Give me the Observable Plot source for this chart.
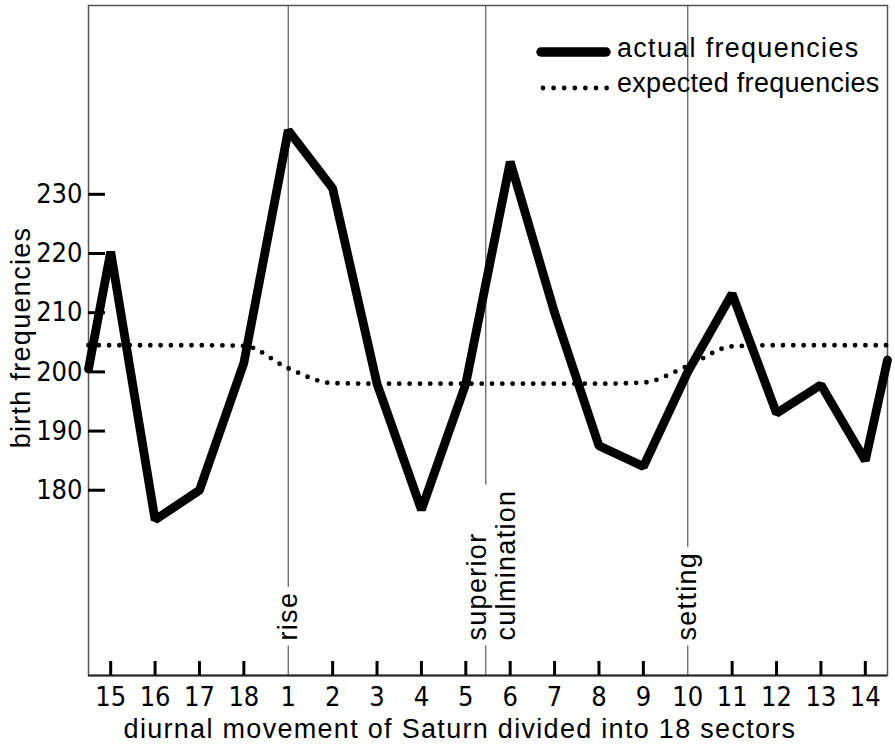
<!DOCTYPE html>
<html>
<head>
<meta charset="utf-8">
<script src="https://cdn.jsdelivr.net/npm/d3@7"></script>
<script src="https://cdn.jsdelivr.net/npm/@observablehq/plot@0.6"></script>
<style>
  html, body { margin: 0; padding: 0; background: #fff; }
  #chart svg { display: block; }
</style>
</head>
<body>
<div id="chart"></div>
<script>
// Sectors along the x axis; the cycle is cut at 15 so that rise (sector 1) sits inside the frame.
const sectorLabels = ["15", "16", "17", "18", "1", "2", "3", "4", "5", "6", "7", "8", "9", "10", "11", "12", "13", "14"];
// Observed birth frequencies per sector (same order as sectorLabels)
const actualFrequencies = [220.3, 175, 180, 201.5, 240.8, 231, 198, 176.7, 198, 235.5, 210, 187.5, 184, 200, 213.2, 193, 197.8, 185];
// Values where the curve meets the left and right edges of the frame
const actualEdges = [200.5, 202];
// Expected (chance) frequencies per sector
const expectedFrequencies = [204.5, 204.5, 204.5, 204.4, 200.6, 198.1, 198, 198, 198, 198, 198, 198, 198.2, 201, 204.3, 204.5, 204.5, 204.5];
const expectedEdges = [204.5, 204.5];
const yTicks = [180, 190, 200, 210, 220, 230];
const yDomain = [148.7, 261.9];
// Horizon / meridian markers, in sector units (0 = sector 15)
const markerNames = ["rise", "setting"];
const markerPositions = [4, 13];
const culminationName = "superior\nculmination";
const culminationPosition = 8.45;
const legendNames = ["actual frequencies", "expected frequencies"];
const xTitle = "diurnal movement of Saturn divided into 18 sectors";
const yTitle = "birth frequencies";

const n = sectorLabels.length;
const actual = [
  {i: -0.5, v: actualEdges[0]},
  ...actualFrequencies.map((v, i) => ({i, v})),
  {i: n - 0.5, v: actualEdges[1]}
];
const expected = [
  {i: -0.5, v: expectedEdges[0]},
  ...expectedFrequencies.map((v, i) => ({i, v})),
  {i: n - 0.5, v: expectedEdges[1]}
];
// sectors that sit on a marker rule get no bold tick
const tickedSectors = d3.range(n).filter((i) => !markerPositions.includes(i));

const wordFont = '"Liberation Sans", Arial, sans-serif';
const numberFont = '"Liberation Sans Narrow", "DejaVu Sans Condensed", "Liberation Sans", sans-serif';

const W = 895, H = 748;
const margin = {left: 88, right: 8, top: 5, bottom: 73};
const frameW = W - margin.left - margin.right;
const frameH = H - margin.top - margin.bottom;
const xTickLen = 14, yTickLen = 17;

const chart = Plot.plot({
  width: W,
  height: H,
  marginLeft: margin.left,
  marginRight: margin.right,
  marginTop: margin.top,
  marginBottom: margin.bottom,
  x: {domain: [-0.5, n - 0.5]},
  y: {domain: yDomain},
  style: {fontFamily: numberFont, fontSize: "27px", color: "#000", background: "#fff"},
  marks: [
    Plot.ruleX(markerPositions.concat([culminationPosition]), {stroke: "#555", strokeWidth: 1.2}),
    Plot.frame({stroke: "#555", strokeWidth: 1.5}),
    Plot.ruleY([yDomain[0]], {stroke: "#222", strokeWidth: 2.2}),
    // inward tick marks
    Plot.ruleX(tickedSectors, {stroke: "#000", strokeWidth: 3, insetTop: frameH - xTickLen}),
    Plot.ruleY(yTicks, {stroke: "#000", strokeWidth: 3, insetRight: frameW - yTickLen}),
    Plot.axisX(d3.range(n), {
      tickSize: 0, tickPadding: 11, tickFormat: (i) => sectorLabels[i], label: null, fill: "#000"
    }),
    Plot.axisY(yTicks, {tickSize: 0, tickPadding: 6, label: null, fill: "#000"}),
    Plot.text(markerNames, {
      x: markerPositions, frameAnchor: "bottom", rotate: -90, textAnchor: "start", lineAnchor: "middle",
      dy: -35, fontFamily: wordFont, fontSize: 27, fill: "#000", className: "marker-label"
    }),
    Plot.text([culminationName], {
      x: [culminationPosition], frameAnchor: "bottom", rotate: -90, textAnchor: "start", lineAnchor: "middle",
      dy: -35, dx: 5.5, lineHeight: 1.07, fontFamily: wordFont, fontSize: 27, fill: "#000",
      className: "marker-label"
    }),
    Plot.line(expected, {
      x: "i", y: "v", curve: "monotone-x", stroke: "#000", strokeWidth: 4.8,
      strokeDasharray: "0 10.3", strokeLinecap: "round"
    }),
    Plot.line(actual, {
      x: "i", y: "v", stroke: "#000", strokeWidth: 8.8, strokeLinejoin: "miter"
    }),
    Plot.text([xTitle], {
      frameAnchor: "bottom", textAnchor: "middle", lineAnchor: "middle", dx: -28, dy: 54,
      fontFamily: wordFont, fontSize: 27, fill: "#000", className: "axis-title"
    }),
    Plot.text([yTitle], {
      frameAnchor: "left", rotate: -90, textAnchor: "middle", lineAnchor: "middle", dx: -67, dy: -3,
      fontFamily: wordFont, fontSize: 27, fill: "#000", className: "axis-title"
    })
  ]
});

document.getElementById("chart").append(chart);
const svg = d3.select(chart);

const pick = (name) => svg.selectAll(`g.${name} text, text.${name}, [aria-label="${name}"] text`);
pick("axis-title").style("letter-spacing", "1.3px");
pick("marker-label").style("letter-spacing", "1.3px");

// White boxes behind the marker labels interrupt the thin vertical rules
pick("marker-label").each(function () {
  const b = this.getBBox();
  const pad = 5;
  d3.select(this.parentNode).insert("rect", () => this)
    .attr("transform", this.getAttribute("transform"))
    .attr("x", b.x - pad).attr("y", b.y - 1)
    .attr("width", b.width + 2 * pad).attr("height", b.height + 2)
    .attr("fill", "#fff").attr("stroke", "none");
});

// Legend in the upper right corner
const legend = svg.append("g").attr("aria-label", "legend").attr("text-anchor", "start");
legend.append("line")
  .attr("x1", 541).attr("x2", 606).attr("y1", 52).attr("y2", 52)
  .attr("stroke", "#000").attr("stroke-width", 9.5).attr("stroke-linecap", "round");
legend.append("line")
  .attr("x1", 543).attr("x2", 607).attr("y1", 88).attr("y2", 88)
  .attr("stroke", "#000").attr("stroke-width", 4.8)
  .attr("stroke-dasharray", "0 10.6").attr("stroke-linecap", "round");
legend.selectAll("text").data(legendNames).join("text")
  .attr("x", 617).attr("y", (d, k) => k === 0 ? 57 : 92)
  .attr("text-anchor", "start")
  .attr("font-family", wordFont).attr("font-size", 27).attr("fill", "#000")
  .style("letter-spacing", (d, k) => k === 0 ? "1.3px" : "0.3px")
  .text((d) => d);
</script>
</body>
</html>
